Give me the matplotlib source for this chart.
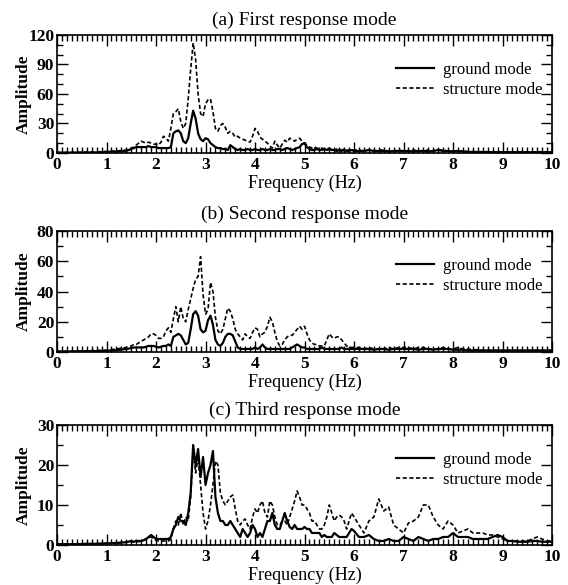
import numpy as np
import matplotlib
matplotlib.use("Agg")
import matplotlib.pyplot as plt
from matplotlib.ticker import MultipleLocator

plt.rcParams['font.family'] = ['Liberation Serif', 'DejaVu Serif']

# frequency grid (Hz): coarse below 1.5, 0.05 step 1.5-6, 0.1 step above
freq = np.concatenate([np.round(np.arange(0.0, 1.41, 0.2), 2),
                       np.round(np.arange(1.5, 6.001, 0.05), 2),
                       np.round(np.arange(6.1, 10.001, 0.1), 2)])

# (a) first response mode
struct_a = [0.5, 0.5, 0.6, 0.8, 1.0, 1.5, 2, 3,
            5, 6, 8, 10, 12, 11, 10, 11, 10, 9,
            9, 8, 11, 17, 15, 12, 25, 40, 42, 45,
            32, 25, 30, 55, 85, 112, 95, 60, 40, 37,
            50, 54, 55, 42, 25, 22, 28, 30, 26, 20,
            22, 20, 16, 17, 15, 14, 13, 12, 11, 17,
            25, 22, 16, 14, 12, 10, 7, 5, 12, 8,
            5, 9, 13, 11, 15, 14, 12, 14, 15, 12,
            10, 8, 6, 5, 6, 5, 4, 5, 4, 4,
            5, 4, 3, 4, 3, 3, 4, 3, 3, 3,
            3,
            3, 2, 3, 2, 3, 3, 2, 2, 3, 2,
            2, 3, 2, 2, 3, 2, 3, 3, 2, 2,
            2, 2, 1.5, 1.5, 1, 1, 1, 1, 1, 1,
            1, 1, 1, 1, 1, 1, 1, 1, 1, 1]
ground_a = [0.3, 0.3, 0.4, 0.5, 0.6, 1.0, 1.5, 2,
            4, 5, 6, 6, 6, 6, 6, 7, 6, 6,
            6, 5, 5, 5, 5, 5, 6, 20, 22, 23,
            20, 12, 10, 15, 30, 43, 35, 20, 14, 12,
            15, 14, 10, 8, 6, 5, 5, 4, 4, 3,
            8, 6, 4, 3, 4, 3, 3, 4, 3, 3,
            4, 3, 3, 4, 3, 3, 4, 3, 3, 4,
            4, 3, 4, 5, 4, 3, 4, 5, 6, 9,
            10, 6, 4, 3, 3, 4, 3, 3, 4, 3,
            4, 3, 3, 2, 3, 2, 3, 2, 2, 3,
            2,
            2, 2, 3, 2, 2, 2, 1.5, 2, 2, 2,
            2, 1.5, 2, 2, 1.5, 2, 3, 2, 2, 1.5,
            2, 1.5, 1, 1, 1, 1, 1, 0.8, 0.8, 0.8,
            0.8, 0.8, 0.8, 0.8, 0.8, 0.8, 0.8, 0.8, 0.8, 0.8]

# (b) second response mode
struct_b = [0.5, 0.5, 0.6, 0.8, 1.0, 1.2, 2, 3,
            4, 5, 5, 6, 7, 8, 9, 10, 12, 12,
            11, 9, 9, 10, 14, 16, 13, 22, 30, 20,
            30, 22, 20, 28, 35, 42, 48, 50, 63, 38,
            25, 28, 46, 40, 23, 14, 12, 15, 22, 29,
            27, 22, 15, 12, 10, 8, 12, 10, 9, 13,
            16, 15, 10, 12, 13, 17, 23, 20, 13, 7,
            4, 5, 8, 10, 11, 11, 13, 15, 17, 15,
            17, 12, 8, 6, 5, 5, 4, 4, 4, 8,
            12, 10, 9, 10, 10, 8, 6, 4, 3, 3,
            3,
            3, 2, 3, 2, 2, 2, 3, 2, 3, 3,
            3, 2, 3, 3, 2, 2, 2, 3, 2, 2,
            3, 2, 2, 1.5, 1.5, 1, 1, 1, 1, 1,
            1, 1, 1, 1, 1, 1, 1, 1, 1, 1]
ground_b = [0.3, 0.3, 0.4, 0.5, 0.6, 0.8, 1.2, 2,
            2.5, 3, 3, 3, 3, 3, 3.5, 4, 4, 4,
            3.5, 3, 3.5, 4, 4, 5, 4, 10, 11, 12,
            11, 8, 5, 6, 15, 25, 27, 24, 15, 13,
            14, 21, 24, 18, 8, 5, 4, 6, 10, 12,
            12, 11, 7, 3, 2, 2, 2, 2, 2, 2,
            3, 2, 3, 5, 3, 2, 2, 2, 2, 2,
            2, 2, 2, 2, 2, 3, 4, 5, 4, 3,
            3, 2, 2, 2, 2, 2, 2, 3, 2, 2,
            2, 2, 2, 2, 2, 3, 2, 2, 2, 2,
            2,
            2, 2, 2, 1.5, 2, 2, 1.5, 2, 2, 2,
            2, 2, 1.5, 2, 2, 1.5, 2, 2, 2, 1.5,
            1.5, 1.5, 1, 1, 1, 1, 1, 1, 1, 1,
            1, 1, 1, 1, 1, 1, 1, 1, 1, 1]

# (c) third response mode
struct_c = [0.2, 0.2, 0.2, 0.3, 0.3, 0.4, 0.5, 0.7,
            0.8, 0.8, 1, 0.8, 1, 1.2, 1.5, 1.8, 2, 1.5,
            1.2, 1, 1, 1, 1, 1, 1.5, 4, 6, 5,
            8, 5, 7, 6, 12, 24, 18, 22, 15, 8,
            4, 6, 10, 15, 21, 20, 13, 11, 10, 11,
            12, 12.5, 9, 6, 5, 6, 6.5, 5, 4, 7,
            9, 8, 10, 11, 8, 7, 11, 10, 7, 5,
            5, 6, 6, 5, 7, 9, 11, 13.5, 12, 10,
            10, 9, 8, 6, 6, 5, 4, 4, 5, 7,
            10, 8, 6, 7, 7.5, 7, 6, 4, 6, 8,
            7,
            5, 3, 6, 7, 11.5, 8.5, 9.5, 5, 4, 3,
            5.5, 6, 7, 10, 10, 7, 5, 4, 6, 5,
            3, 3.5, 4, 3, 3, 3, 2.5, 2.5, 2, 1.5,
            1, 1, 1, 1, 1, 1.5, 2, 1.5, 1, 1]
ground_c = [0.2, 0.2, 0.2, 0.3, 0.3, 0.4, 0.5, 0.7,
            1, 0.8, 1, 1, 1, 1.2, 1.5, 2, 2.5, 2,
            1.5, 1.5, 1.5, 1.5, 1.5, 1.5, 2, 4, 5, 7,
            6, 6, 5, 8, 13, 25, 20, 24, 17, 22,
            15, 18, 20, 23.5, 12, 8, 6, 6, 5, 5,
            6, 5, 4, 3, 2, 4, 3, 2, 3, 5,
            4, 2, 3, 2, 4, 6, 6, 8, 5, 4,
            4, 6, 8, 6, 4.5, 4, 5, 4, 4, 4,
            4.5, 4, 4, 3, 3, 3, 3, 2, 2.5, 2,
            2, 2, 3, 2.5, 2, 2, 2, 2, 3, 4,
            3.5,
            2, 2, 2.5, 1.5, 1, 1, 1.5, 1, 1, 2,
            1.5, 1, 2, 1.5, 1, 1.5, 1.5, 2, 2, 3,
            2, 2, 2, 1.5, 1.5, 1.5, 1.5, 2, 2.5, 2,
            1, 1, 0.8, 0.8, 0.8, 1, 1, 0.8, 0.8, 0.8]

titles = ['(a) First response mode', '(b) Second response mode', '(c) Third response mode']
ymax = [120, 80, 30]
ystep = [30, 20, 10]
yminor = [10, 10, 5]
title_pad = [7, 9, 7]
panels = [(ground_a, struct_a), (ground_b, struct_b), (ground_c, struct_c)]
# axes rectangles in figure fraction
rects = [[0.1004, 0.7385, 0.8715, 0.2017],
         [0.1004, 0.3983, 0.8715, 0.2068],
         [0.1004, 0.0684, 0.8715, 0.2051]]

fig = plt.figure(figsize=(5.68, 5.85), dpi=100)

for i in range(3):
    ax = fig.add_axes(rects[i])
    g, s = panels[i]
    ax.plot(freq, g, 'k-', lw=1.6, label='ground mode')
    ax.plot(freq, s, 'k--', lw=1.2, dashes=(2.5, 1.5), label='structure mode')
    ax.set_xlim(0, 10)
    ax.set_ylim(0, ymax[i])
    ax.xaxis.set_major_locator(MultipleLocator(1))
    ax.xaxis.set_minor_locator(MultipleLocator(0.1))
    ax.yaxis.set_major_locator(MultipleLocator(ystep[i]))
    ax.yaxis.set_minor_locator(MultipleLocator(yminor[i]))
    ax.tick_params(which='both', direction='in', top=True, right=True, width=1.0)
    ax.tick_params(which='major', length=8, labelsize=12.5)
    ax.tick_params(axis='x', which='major', pad=3)
    ax.tick_params(axis='y', which='major', pad=2)
    ax.tick_params(which='minor', length=4)
    for lab in ax.get_xticklabels() + ax.get_yticklabels():
        lab.set_fontweight('bold')
    for sp in ax.spines.values():
        sp.set_linewidth(1.2)
    ax.set_title(titles[i], fontsize=14, pad=title_pad[i])
    ax.set_xlabel('Frequency (Hz)', fontsize=13, labelpad=1)
    ax.set_ylabel('Amplitude', fontsize=12.5, fontweight='bold')
    ax.yaxis.set_label_coords(-0.05, 0.5)
    ax.legend(loc='upper right', bbox_to_anchor=(1.0, 0.86), frameon=False,
              fontsize=12, handlelength=2.3, handletextpad=0.5,
              labelspacing=0.25, borderaxespad=0.2)

fig.savefig('out.png', dpi=100)
